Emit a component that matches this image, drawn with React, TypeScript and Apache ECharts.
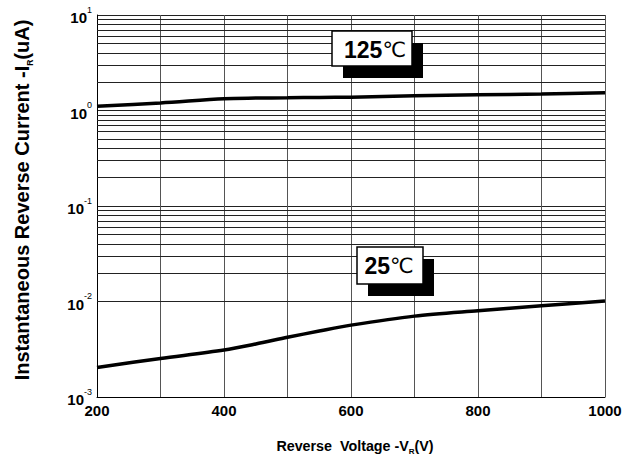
import React, { useEffect, useRef } from "react";
import * as echarts from "echarts";

const voltages = [200, 300, 400, 450, 500, 550, 600, 700, 800, 900, 1000];
const current125 = [1.11, 1.2, 1.33, 1.35, 1.36, 1.37, 1.38, 1.43, 1.46, 1.49, 1.53];
const current25 = [0.00204, 0.00253, 0.00311, 0.00359, 0.00422, 0.00491, 0.00566, 0.00703, 0.008, 0.009, 0.0101];
const decades = [0.001, 0.01, 0.1, 1];
const minorMultipliers = [2, 3, 4, 5, 6, 7, 8, 9];
const xTickLabels = [200, 400, 600, 800, 1000];

const FONT = "'Liberation Sans', Arial, sans-serif";

export default function App() {
  const ref = useRef<HTMLDivElement>(null);
  useEffect(() => {
    if (!ref.current) return;
    const chart = echarts.init(ref.current, undefined, { renderer: "svg" });
    const minorValues: number[] = [];
    decades.forEach((d) => minorMultipliers.forEach((m) => minorValues.push(d * m)));
    const toPairs = (ys: number[]) => voltages.map((v, i) => [v, ys[i]]);

    const labelBox = (x: number, y: number, w: number, h: number, num: string, tx: number, ty: number) => ({
      type: "group",
      children: [
        { type: "rect", shape: { x: x + 11, y: y + 12, width: w, height: h }, style: { fill: "#000" }, z: 10 },
        { type: "rect", shape: { x, y, width: w, height: h }, style: { fill: "#fff", stroke: "#000", lineWidth: 1.5 }, z: 11 },
        {
          type: "text",
          x: tx,
          y: ty,
          z: 12,
          style: {
            text: `{n|${num}}{c|℃}`,
            align: "center",
            verticalAlign: "middle",
            rich: {
              n: { fontFamily: FONT, fontWeight: "bold", fontSize: 23, fill: "#000" },
              c: { fontFamily: "'DejaVu Sans', 'Noto Sans CJK SC', sans-serif", fontSize: 21, fill: "#000" },
            },
          },
        },
      ],
    });

    chart.setOption({
      animation: false,
      backgroundColor: "#fff",
      grid: { left: 97, top: 15, right: 27, bottom: 61, containLabel: false },
      xAxis: {
        type: "value",
        min: 200,
        max: 1000,
        interval: 100,
        axisLine: { show: true, lineStyle: { color: "#000", width: 1 } },
        axisTick: { show: false },
        splitLine: { show: true, lineStyle: { color: "#555", width: 1 } },
        axisLabel: {
          margin: 6,
          fontFamily: FONT,
          fontWeight: "bold",
          fontSize: 15,
          color: "#000",
          formatter: (v: number) => (xTickLabels.includes(v) ? String(v) : ""),
        },
        name: "{t|Reverse  Voltage -V}{s|R}{t|(V)}",
        nameLocation: "middle",
        nameGap: 40,
        nameTextStyle: {
          padding: [0, 0, 0, 8],
          rich: {
            t: { fontFamily: FONT, fontWeight: "bold", fontSize: 14.3, color: "#000", lineHeight: 18, verticalAlign: "middle" },
            s: { fontFamily: FONT, fontWeight: "bold", fontSize: 8, color: "#000", lineHeight: 10, verticalAlign: "bottom" },
          },
        },
      },
      yAxis: {
        type: "log",
        logBase: 10,
        min: 0.001,
        max: 10,
        axisLine: { show: true, lineStyle: { color: "#000", width: 1 } },
        axisTick: { show: false },
        splitLine: { show: true, lineStyle: { color: "#222", width: 1 } },
        axisLabel: {
          margin: 5,
          formatter: (v: number) => `{b|10}{e|${Math.round(Math.log10(v))}}`,
          rich: {
            b: { fontFamily: FONT, fontWeight: "bold", fontSize: 15, color: "#000", lineHeight: 20, verticalAlign: "bottom" },
            e: { fontFamily: FONT, fontSize: 9, color: "#000", lineHeight: 20, verticalAlign: "top", padding: [0, 0, 8, 0] },
          },
        },
        name: "{t|Instantaneous Reverse Current -I}{s|R}{t|(uA)}",
        nameLocation: "middle",
        nameRotate: 90,
        nameGap: 63,
        nameTextStyle: {
          padding: [0, 0, 0, 12],
          rich: {
            t: { fontFamily: FONT, fontWeight: "bold", fontSize: 20, color: "#000", lineHeight: 24, verticalAlign: "middle" },
            s: { fontFamily: FONT, fontWeight: "bold", fontSize: 8.5, color: "#000", lineHeight: 10, verticalAlign: "bottom" },
          },
        },
      },
      series: [
        {
          type: "line",
          data: [],
          z: 1,
          silent: true,
          markLine: {
            silent: true,
            symbol: "none",
            label: { show: false },
            lineStyle: { color: "#222", width: 1, type: "solid" },
            data: minorValues.map((v) => ({ yAxis: v })),
          },
        },
        {
          type: "line",
          name: "125",
          data: toPairs(current125),
          smooth: 0.3,
          showSymbol: false,
          z: 5,
          lineStyle: { color: "#000", width: 3.5 },
        },
        {
          type: "line",
          name: "25",
          data: toPairs(current25),
          smooth: 0.3,
          showSymbol: false,
          z: 5,
          lineStyle: { color: "#000", width: 3.5 },
        },
      ],
      graphic: [
        labelBox(332, 31, 80, 35, "125", 375, 50),
        labelBox(357, 247, 66, 37, "25", 389, 266),
      ],
    });
    return () => chart.dispose();
  }, []);
  return <div ref={ref} style={{ position: "fixed", left: 0, top: 0, width: 632, height: 460 }} />;
}
